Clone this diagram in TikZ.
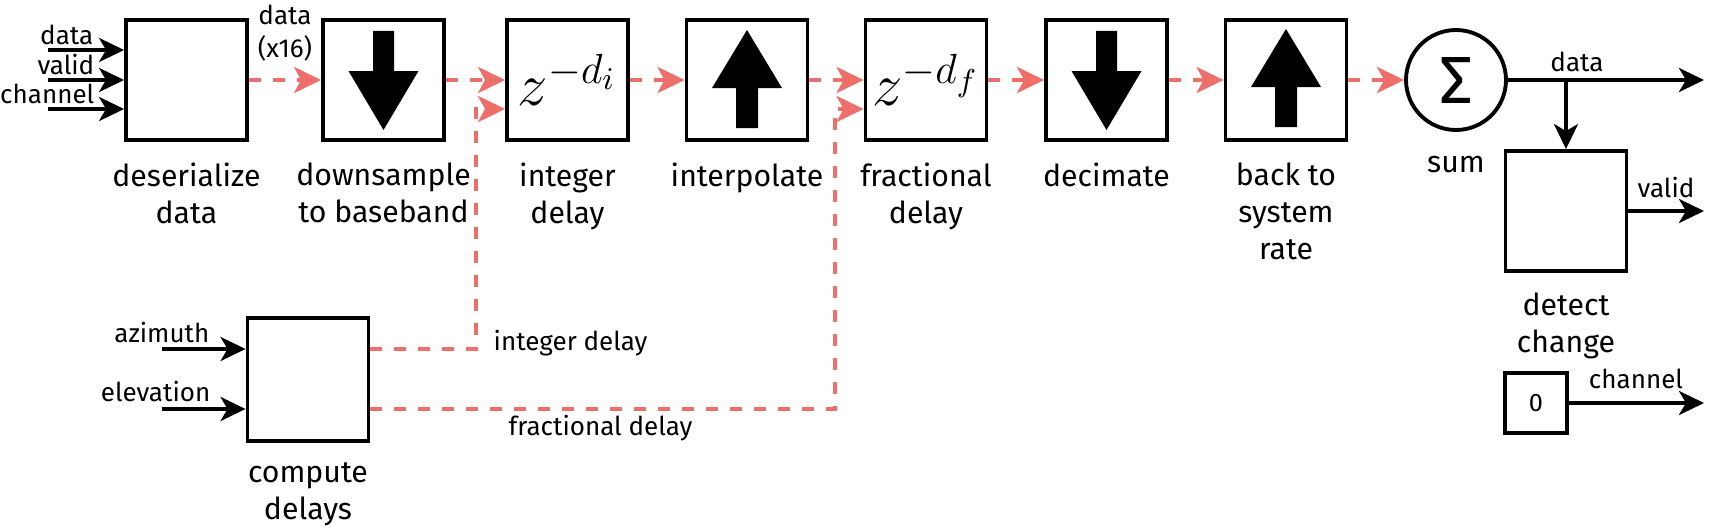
\documentclass[tikz,border=0pt]{standalone}
\usepackage{fontspec}
\setmainfont{Fira Sans}
\usetikzlibrary{positioning,arrows.meta}
\definecolor{flow}{HTML}{EE6E6A}
\tikzset{
  blk/.style={draw, line width=1.1pt, minimum width=1.21cm, minimum height=1.2cm, inner sep=0pt},
  capt/.style={align=center, inner sep=0pt, font=\fontsize{8.6}{10.5}\selectfont},
  sml/.style={inner sep=0pt, font=\fontsize{7.4}{9.2}\selectfont},
  dline/.style={flow, line width=1.1pt, dash pattern=on 0.12cm off 0.12cm, -{Stealth[length=0.27cm,width=0.26cm,inset=0.07cm]}},
  wire/.style={line width=1.05pt, -{Stealth[length=0.25cm,width=0.24cm,inset=0.07cm]}},
}
\begin{document}
\begin{tikzpicture}
\useasboundingbox (0,0) rectangle (17.25,-5.31);
% processing chain
\node[blk] (des) at (1.865,-0.8) {};
\node[blk] (dn) at (3.835,-0.8) {};
\node[blk] (idel) at (5.675,-0.8) {\fontsize{17.5}{17.5}\selectfont$z^{-d_i}$};
\node[blk] (itp) at (7.47,-0.8) {};
\node[blk] (fdel) at (9.26,-0.8) {\fontsize{17.5}{17.5}\selectfont$z^{-d_f}$};
\node[blk] (dec) at (11.065,-0.8) {};
\node[blk] (back) at (12.86,-0.8) {};
\node[draw, circle, line width=1.1pt, minimum size=1.0cm, inner sep=0pt] (sum) at (14.56,-0.8) {\fontsize{19}{19}\selectfont\addfontfeature{Weight=Light}Σ};
\node[blk] (det) at (15.66,-2.11) {};
\node[blk, minimum width=0.62cm, minimum height=0.6cm, font=\fontsize{7.2}{9}\selectfont] (zero) at (15.36,-4.03) {0};
\node[blk, minimum height=1.23cm] (comp) at (3.08,-3.795) {};

% captions
\node[capt, below=0.2cm of des] (desl) {deserialize\\data};
\node[capt, below=0.2cm of dn] (dnl) {downsample\\to baseband};
\node[capt, below=0.2cm of idel] (idell) {integer\\delay};
\node[capt, below=0.2cm of itp] (itpl) {interpolate};
\node[capt, below=0.2cm of fdel] (fdell) {fractional\\delay};
\node[capt, below=0.2cm of dec] (decl) {decimate};
\node[capt, below=0.2cm of back] (backl) {back to\\system\\rate};
\node[capt, below=0.24cm of sum] (suml) {sum};
\node[capt, below=0.19cm of det] (detl) {detect\\change};
\node[capt, below=0.19cm of comp] (compl) {compute\\delays};

% rate arrows
\fill[shift={(dn.center)}] (-0.105,0.49) -- (0.105,0.49) -- (0.105,0.09) -- (0.35,0.09) -- (0,-0.5) -- (-0.35,0.09) -- (-0.105,0.09) -- cycle;
\fill[shift={(dec.center)}] (-0.105,0.49) -- (0.105,0.49) -- (0.105,0.09) -- (0.35,0.09) -- (0,-0.5) -- (-0.35,0.09) -- (-0.105,0.09) -- cycle;
\fill[shift={(itp.center)},yscale=-1] (-0.11,0.48) -- (0.11,0.48) -- (0.11,0.08) -- (0.35,0.08) -- (0,-0.5) -- (-0.35,0.08) -- (-0.11,0.08) -- cycle;
\fill[shift={(back.center)},yscale=-1] (-0.11,0.47) -- (0.11,0.47) -- (0.11,0.07) -- (0.35,0.07) -- (0,-0.51) -- (-0.35,0.07) -- (-0.11,0.07) -- cycle;

% inputs
\coordinate (inD) at (0.48,-0.5);
\coordinate (inV) at (0.48,-0.8);
\coordinate (inC) at (0.48,-1.09);
\draw[wire] (inD) -- (inD -| des.west);
\draw[wire] (inV) -- (inV -| des.west);
\draw[wire] (inC) -- (inC -| des.west);
\node[sml, anchor=base east] (lD) at (0.94,-0.44) {data};
\node[sml, anchor=base east] (lV) at (0.95,-0.74) {valid};
\node[sml, anchor=base east] (lC) at (0.95,-1.04) {channel};
\coordinate (inA) at (1.62,-3.49);
\coordinate (inE) at (1.62,-4.09);
\draw[wire] (inA) -- (inA -| comp.west);
\draw[wire] (inE) -- (inE -| comp.west);
\node[sml, anchor=base east] (lA) at (2.1,-3.42) {azimuth};
\node[sml, anchor=base east] (lE) at (2.11,-4.01) {elevation};

% data path
\draw[dline] (des) -- node[sml, text=black, align=center, above=0.17cm] (x16) {data\\(x16)} (dn);
\draw[dline] (dn) -- (idel);
\draw[dline] (idel) -- (itp);
\draw[dline] (itp) -- (fdel);
\draw[dline] (fdel) -- (dec);
\draw[dline] (dec) -- (back);
\draw[dline] (back) -- (sum);

% delays
\coordinate (iin) at ([yshift=-0.29cm]idel.west);
\coordinate (fin) at ([yshift=-0.29cm]fdel.west);
\draw[dline] ([yshift=0.305cm]comp.east) -| ([xshift=-0.29cm]iin) -- (iin);
\draw[dline] ([yshift=-0.295cm]comp.east) -| ([xshift=-0.285cm]fin) -- (fin);
\node[sml, anchor=west] (intl) at (4.93,-3.43) {integer delay};
\node[sml, anchor=west] (frcl) at (5.08,-4.28) {fractional delay};

% outputs
\coordinate (oD) at (17.04,-0.8);
\draw[wire] (sum) -- (oD);
\draw[wire] (sum.east -| det.north) -- (det.north);
\draw[wire] (det) -- (det.east -| oD);
\draw[wire] (zero) -- (zero.east -| oD);
\node[sml] (oDl) at (15.77,-0.62) {data};
\node[sml] (oVl) at (16.66,-1.88) {valid};
\node[sml] (oCl) at (16.36,-3.79) {channel};
\end{tikzpicture}
\end{document}
